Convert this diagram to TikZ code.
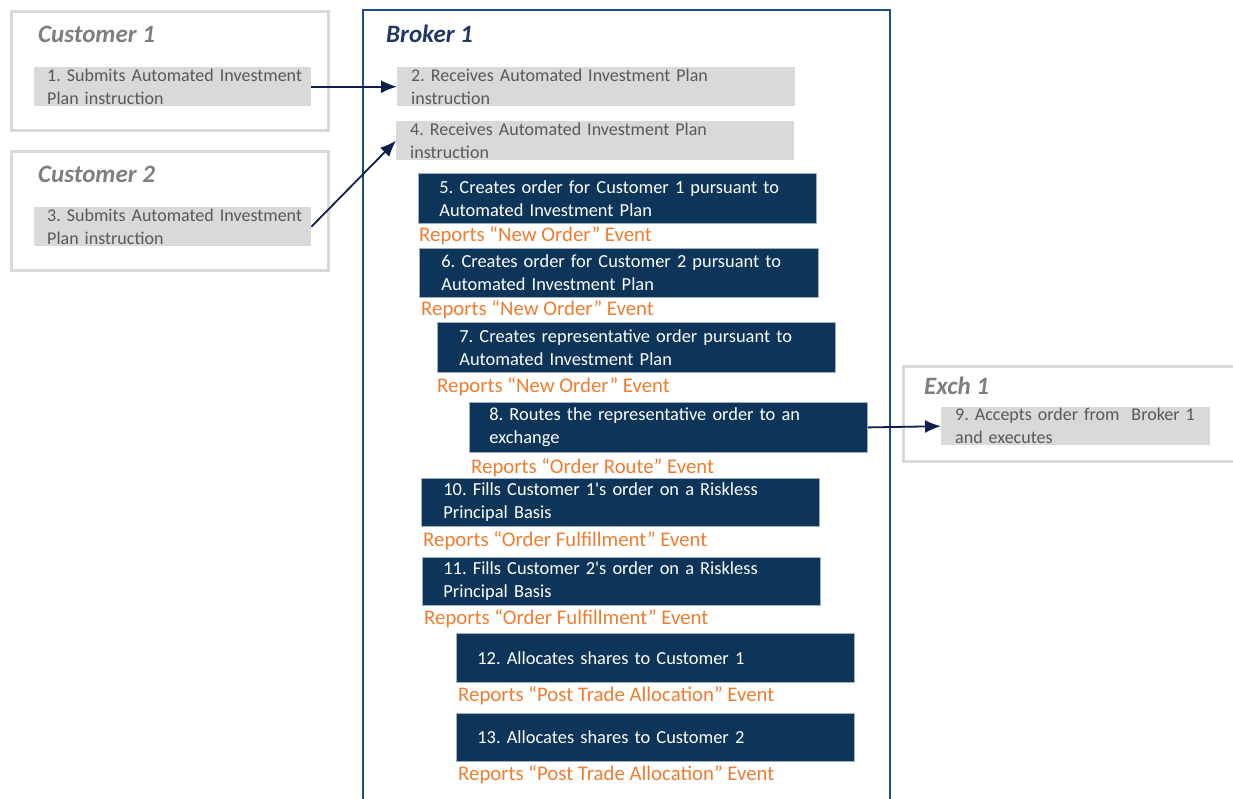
\documentclass[tikz,border=0pt]{standalone}
\usepackage{fontspec}
\setmainfont{Carlito}[Ligatures=TeXOff]
\usetikzlibrary{arrows.meta}
\definecolor{navy}{HTML}{0C3559}
\definecolor{brokerline}{HTML}{1F4E79}
\definecolor{brokertitle}{HTML}{1F3864}
\definecolor{arrowc}{HTML}{0F1F4B}
\definecolor{orangeev}{HTML}{ED7D31}
\definecolor{greyfill}{HTML}{D9D9D9}
\definecolor{greytext}{HTML}{595959}
\definecolor{greytitle}{HTML}{7F7F7F}
\definecolor{navyedge}{HTML}{9FB0C4}
\frenchspacing
\tikzset{
  lpad/.style={execute at begin node={\leftskip=#1\relax}},
  outerbox/.style={draw=greyfill, line width=2.5pt, anchor=north west, inner sep=0pt},
  greybox/.style={fill=greyfill, anchor=north west, align=left, inner sep=0pt,
     text=greytext, font=\fontsize{18}{23}\selectfont},
  navybox/.style={fill=navy, draw=navyedge, line width=0.8pt, anchor=north west, align=left, inner sep=0pt,
     text=white, font=\fontsize{18.4}{23}\selectfont},
  evlabel/.style={anchor=west, inner sep=0pt, yshift=-2pt, text=orangeev, font=\fontsize{20.8}{24}\selectfont},
  gtitle/.style={anchor=west, inner sep=0pt, text=greytitle, font=\fontsize{25}{28}\selectfont\bfseries\itshape},
  flow/.style={draw=arrowc, line width=1.8pt, -{Latex[length=16pt,width=13pt]}},
}
\begin{document}
\begin{tikzpicture}[x=1pt,y=-1pt]
\useasboundingbox (0,0) rectangle (1233,798);
\clip (0,0) rectangle (1233,798);
\fill[white] (0,0) rectangle (1233,798);
% containers
\node[outerbox, minimum width=317pt, minimum height=119pt] (cust1) at (10,10) {};
\node[outerbox, minimum width=317pt, minimum height=119pt] (cust2) at (10,150) {};
\node[outerbox, minimum width=340pt, minimum height=95pt] (exch) at (902,365) {};
\node[draw=brokerline, line width=2pt, anchor=north west, inner sep=0pt, minimum width=527pt, minimum height=820pt] (broker) at (362,9) {};
% titles
\node[gtitle] (t1) at (38,34) {Customer 1};
\node[gtitle] (t2) at (38,174) {Customer 2};
\node[gtitle, text=brokertitle] (tb) at (386,34) {Broker 1};
\node[gtitle] (te) at (924,386) {Exch 1};
% grey boxes
\node[greybox, minimum height=39pt, text width=277pt, lpad=13pt] (s1) at (34,67) {1. Submits Automated Investment\\Plan instruction};
\node[greybox, minimum height=39pt, text width=277pt, lpad=13pt] (s3) at (34,207) {3. Submits Automated Investment\\Plan instruction};
\node[greybox, minimum height=39pt, text width=398pt, lpad=14pt] (s2) at (397,67) {2. Receives Automated Investment Plan\\instruction};
\node[greybox, minimum height=39pt, text width=398pt, lpad=14pt] (s4) at (396,121) {4. Receives Automated Investment Plan\\instruction};
\node[greybox, minimum height=38pt, text width=269pt, lpad=14pt] (s9) at (941,407) {9. Accepts order from\ \ Broker 1\\and executes};
% navy boxes
\node[navybox, minimum height=50pt, text width=398pt, lpad=21pt] (s5) at (418,173) {5. Creates order for Customer 1 pursuant to\\Automated Investment Plan};
\node[navybox, minimum height=49pt, text width=399pt, lpad=22pt] (s6) at (419,248) {6. Creates order for Customer 2 pursuant to\\Automated Investment Plan};
\node[navybox, minimum height=50pt, text width=398pt, lpad=22pt] (s7) at (437,322) {7. Creates representative order pursuant to\\Automated Investment Plan};
\node[navybox, minimum height=50pt, text width=398pt, lpad=20pt] (s8) at (469,402) {8. Routes the representative order to an\\exchange};
\node[navybox, minimum height=48pt, text width=398pt, lpad=22pt] (s10) at (421,478) {10. Fills Customer 1's order on a Riskless\\Principal Basis};
\node[navybox, minimum height=48pt, text width=398pt, lpad=21pt] (s11) at (422,557) {11. Fills Customer 2's order on a Riskless\\Principal Basis};
\node[navybox, minimum height=49pt, text width=398pt, lpad=21pt] (s12) at (456,633) {12. Allocates shares to Customer 1};
\node[navybox, minimum height=48pt, text width=398pt, lpad=21pt] (s13) at (456,713) {13. Allocates shares to Customer 2};
% event labels
\node[evlabel] (l5) at (419,234) {Reports “New Order” Event};
\node[evlabel] (l6) at (421,308) {Reports “New Order” Event};
\node[evlabel] (l7) at (437,385) {Reports “New Order” Event};
\node[evlabel] (l8) at (471,466) {Reports “Order Route” Event};
\node[evlabel] (l10) at (423,539) {Reports “Order Fulfillment” Event};
\node[evlabel] (l11) at (424,617) {Reports “Order Fulfillment” Event};
\node[evlabel] (l12) at (458,694) {Reports “Post Trade Allocation” Event};
\node[evlabel] (l13) at (458,773) {Reports “Post Trade Allocation” Event};
% connectors
\draw[flow] (s1.east) -- (s2.west);
\draw[flow] (s3.east) -- (s4.west);
\draw[flow] (s8.east) -- (s9.west);
\end{tikzpicture}
\end{document}
